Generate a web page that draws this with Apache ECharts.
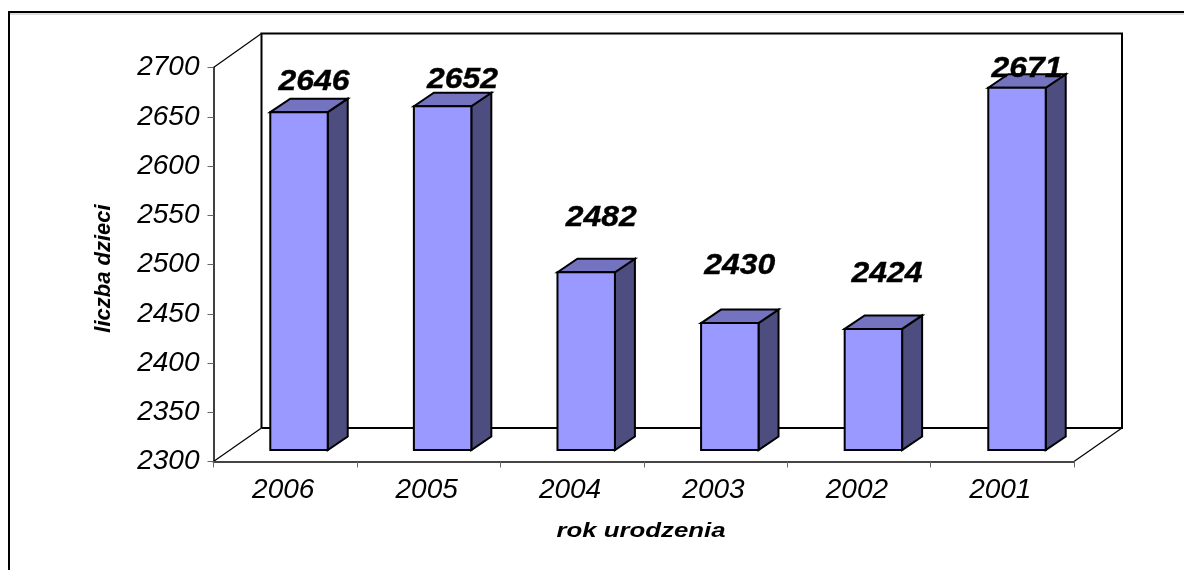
<!DOCTYPE html>
<html><head><meta charset="utf-8">
<style>html,body{margin:0;padding:0;background:#fff}#c{width:1184px;height:570px}</style>
<script src="https://cdn.jsdelivr.net/npm/echarts@6/dist/echarts.min.js"></script>
</head><body><div id="c"></div>
<script>
const categories = ['2006','2005','2004','2003','2002','2001'];
const values = [2646,2652,2482,2430,2424,2671];
const yMin = 2300, yMax = 2700, yStep = 50;
const xTitle = 'rok urodzenia', yTitle = 'liczba dzieci';
// layout: label centre relative to the front-top of each bar [dx, dy]
const labelShift = [[15,-30],[20,-26.5],[15,-54],[10,-57],[13.5,-55],[10,-19]];
const depthX = 20, depthY = 13.5;
const font = '"Liberation Sans", Arial, sans-serif';

const chart = echarts.init(document.getElementById('c'), null, {renderer:'canvas'});
function renderBar(params, api){
  const i = api.value(0), v = api.value(1);
  const top = api.coord([i, v]), base = api.coord([i, yMin]);
  const w = api.size([1,0])[0]*0.4;
  const x0 = top[0]-w/2, x1 = top[0]+w/2, yT = top[1], yB = base[1];
  const line = {stroke:'#000', lineWidth:2, lineJoin:'miter'};
  const shift = labelShift[i];
  return {type:'group', children:[
    {type:'polygon', shape:{points:[[x1,yT],[x1+depthX,yT-depthY],[x1+depthX,yB-depthY],[x1,yB]]}, style:{fill:'#4D4D80',...line}},
    {type:'polygon', shape:{points:[[x0,yT],[x0+depthX,yT-depthY],[x1+depthX,yT-depthY],[x1,yT]]}, style:{fill:'#7373BF',...line}},
    {type:'rect', shape:{x:x0,y:yT,width:w,height:yB-yT}, style:{fill:'#9999FF',...line}},
    {type:'text', x:top[0]+shift[0], y:yT+shift[1], z2:10, scaleX:1.1, style:{text:String(v), fill:'#000', stroke:'#000', lineWidth:0.4, font:'italic bold 29px '+font, align:'center', verticalAlign:'middle'}}
  ]};
}
const lineStyle = {stroke:'#000', lineWidth:2, fill:null};
const thin = {stroke:'#000', lineWidth:1.2, fill:null};
chart.setOption({
  animation:false,
  backgroundColor:'#fff',
  graphic:[
    {type:'polyline', silent:true, shape:{points:[[9,570],[9,14],[1184,14]]}, style:{stroke:'#bbb',lineWidth:1,fill:null}},
    {type:'polyline', silent:true, shape:{points:[[9,570],[9,12],[1184,12]]}, style:{stroke:'#000',lineWidth:2,fill:null}},
    {type:'polyline', silent:true, shape:{points:[[261.5,428],[261.5,33.5],[1122,33.5],[1122,428],[261.5,428]]}, style:lineStyle},
    {type:'line', silent:true, shape:{x1:213.5,y1:67.5,x2:261.5,y2:33.5}, style:thin},
    {type:'line', silent:true, shape:{x1:213.5,y1:461.5,x2:261.5,y2:428}, style:thin},
    {type:'line', silent:true, shape:{x1:1074,y1:461.5,x2:1122,y2:428}, style:thin},
    {type:'text', silent:true, x:641, y:531, scaleX:1.29, style:{text:xTitle, fill:'#000', font:'italic bold 20px '+font, align:'center', verticalAlign:'middle'}},
    {type:'text', silent:true, x:104, y:268.5, rotation:Math.PI/2, style:{text:yTitle, fill:'#000', font:'italic bold 22px '+font, align:'center', verticalAlign:'middle'}}
  ],
  grid:[
    {left:213.5, top:67.5, width:860.5, height:394, containLabel:false},
    {left:227.2, top:59.4, width:861.6, height:390.6, containLabel:false}
  ],
  xAxis:[
    {type:'category', gridIndex:0, data:categories, boundaryGap:true,
     axisLine:{lineStyle:{color:'#444',width:2}}, axisTick:{show:true,length:6,lineStyle:{color:'#666',width:1},alignWithLabel:false},
     axisLabel:{fontFamily:font,fontStyle:'italic',fontSize:28,color:'#000',margin:15,interval:0,padding:[0,4,0,0]}},
    {type:'category', gridIndex:1, data:categories, show:false}
  ],
  yAxis:[
    {type:'value', gridIndex:0, min:yMin, max:yMax, interval:yStep,
     axisLine:{show:true,lineStyle:{color:'#000',width:1.5}}, axisTick:{show:true,length:6,lineStyle:{color:'#666',width:1}},
     splitLine:{show:false},
     axisLabel:{fontFamily:font,fontStyle:'italic',fontSize:28,color:'#000',margin:14,formatter:v=>String(v)}},
    {type:'value', gridIndex:1, min:yMin, max:yMax, interval:yStep, show:false, splitLine:{show:false}}
  ],
  series:[{type:'custom', xAxisIndex:1, yAxisIndex:1, clip:false, renderItem:renderBar,
    encode:{x:0,y:1}, data:values.map((v,i)=>[i,v])}]
});
</script></body></html>
